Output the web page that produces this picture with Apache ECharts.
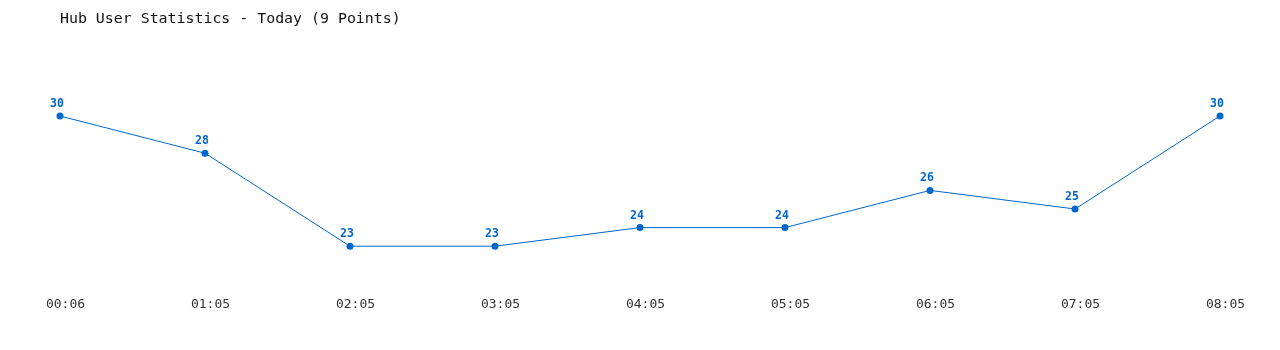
<!DOCTYPE html>
<html><head><meta charset="utf-8">
<script src="https://cdn.jsdelivr.net/npm/echarts@6/dist/echarts.min.js"></script>
<style>html,body{margin:0;padding:0;background:#fff}#c{width:1280px;height:350px}</style>
</head><body><div id="c"></div>
<script>
const titleText = 'Hub User Statistics - Today (9 Points)';
const categories = ['00:06','01:05','02:05','03:05','04:05','05:05','06:05','07:05','08:05'];
const users = [30, 28, 23, 23, 24, 24, 26, 25, 30];

const chart = echarts.init(document.getElementById('c'), null, {renderer:'canvas'});
chart.setOption({
  animation: false,
  backgroundColor: '#ffffff',
  title: {
    text: titleText, left: 55, top: 7,
    textStyle: {fontFamily: 'DejaVu Sans Mono', fontSize: 14.9, fontWeight: 'normal', color: '#111'}
  },
  grid: {left: 60, right: 60, top: 97.4, bottom: 66.6, containLabel: false},
  xAxis: {
    type: 'category', data: categories, boundaryGap: false,
    axisLine: {show: false}, axisTick: {show: false}, splitLine: {show: false},
    axisLabel: {margin: 15, padding: [0, 0, 0, 11], fontFamily: 'DejaVu Sans Mono', fontSize: 13, color: '#333'}
  },
  yAxis: {
    type: 'value', min: 21, max: 31, show: false, splitLine: {show: false}
  },
  series: [{
    type: 'line', data: users,
    symbol: 'circle', symbolSize: 7,
    itemStyle: {color: '#0066cc'},
    lineStyle: {color: '#0066cc', width: 1},
    label: {show: true, position: 'top', distance: 2.5, offset: [-3, 0], color: '#0066cc',
      fontFamily: 'DejaVu Sans Mono', fontWeight: 'bold', fontSize: 11.5}
  }]
});
</script></body></html>
